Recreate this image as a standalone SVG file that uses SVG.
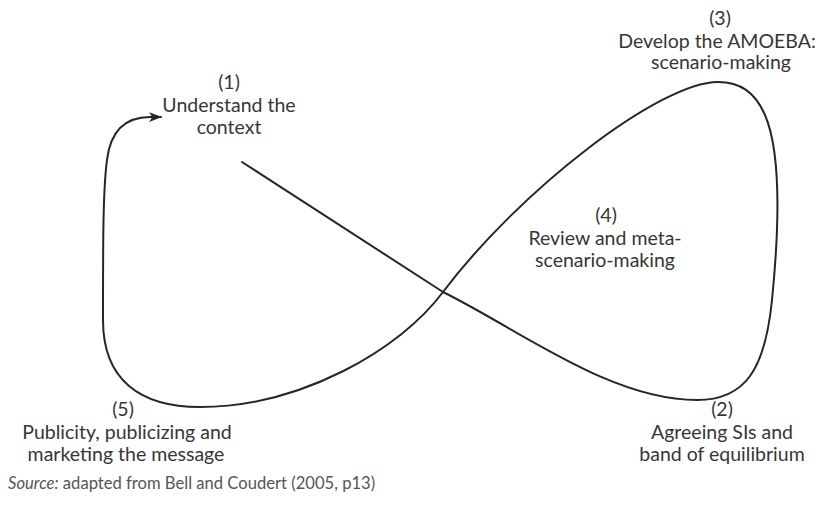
<svg xmlns="http://www.w3.org/2000/svg" width="826" height="505" viewBox="0 0 826 505">
  <style>
    .lbl { font-family: Lato, "Open Sans", "Liberation Sans", sans-serif; font-size: 19.5px; fill: #363636; text-anchor: middle; }
    .src { font-family: Lato, "Open Sans", "Liberation Sans", sans-serif; font-size: 16.6px; fill: #555; }
    .loop { fill: none; stroke: #262626; stroke-width: 2; stroke-linecap: round; }
  </style>
  <defs>
    <marker id="arrowhead" viewBox="0 0 12 10" refX="11" refY="5" markerWidth="13" markerHeight="11" markerUnits="userSpaceOnUse" orient="auto">
      <path d="M0,0.5 L12,5 L0,9.5 L3,5 Z" fill="#262626"/>
    </marker>
  </defs>
  <rect width="826" height="505" fill="#ffffff"/>

  <!-- figure-of-eight process loop -->
  <g id="connectors">
    <path class="loop" marker-end="url(#arrowhead)"
      d="M242,162 L443,292
         C520,330 610,400 697,400
         C745,400 765,370 772,300
         C780,220 780,150 765,115
         C755,92 740,82 718,82
         C660,82 520,190 443,292
         C400,350 300,407 200,407
         C140,407 103,380 103,320
         C103,240 103,190 107,160
         C110,135 122,117 150,117
         L161,117"/>
  </g>

  <g id="step1">
    <text class="lbl" x="229" y="89">(1)</text>
    <text class="lbl" x="229" y="112">Understand the</text>
    <text class="lbl" x="229" y="134">context</text>
  </g>
  <g id="step2">
    <text class="lbl" x="722" y="416">(2)</text>
    <text class="lbl" x="722" y="439">Agreeing SIs and</text>
    <text class="lbl" x="722" y="461">band of equilibrium</text>
  </g>
  <g id="step3">
    <text class="lbl" x="720" y="25">(3)</text>
    <text class="lbl" x="717" y="48">Develop the AMOEBA:</text>
    <text class="lbl" x="721" y="69">scenario-making</text>
  </g>
  <g id="step4">
    <text class="lbl" x="606" y="222">(4)</text>
    <text class="lbl" x="605" y="245">Review and meta-</text>
    <text class="lbl" x="605" y="267">scenario-making</text>
  </g>
  <g id="step5">
    <text class="lbl" x="123" y="416">(5)</text>
    <text class="lbl" x="127" y="439">Publicity, publicizing and</text>
    <text class="lbl" x="126" y="461">marketing the message</text>
  </g>

  <text class="src" x="8" y="489"><tspan font-style="italic">Source:</tspan> adapted from Bell and Coudert (2005, p13)</text>
</svg>
